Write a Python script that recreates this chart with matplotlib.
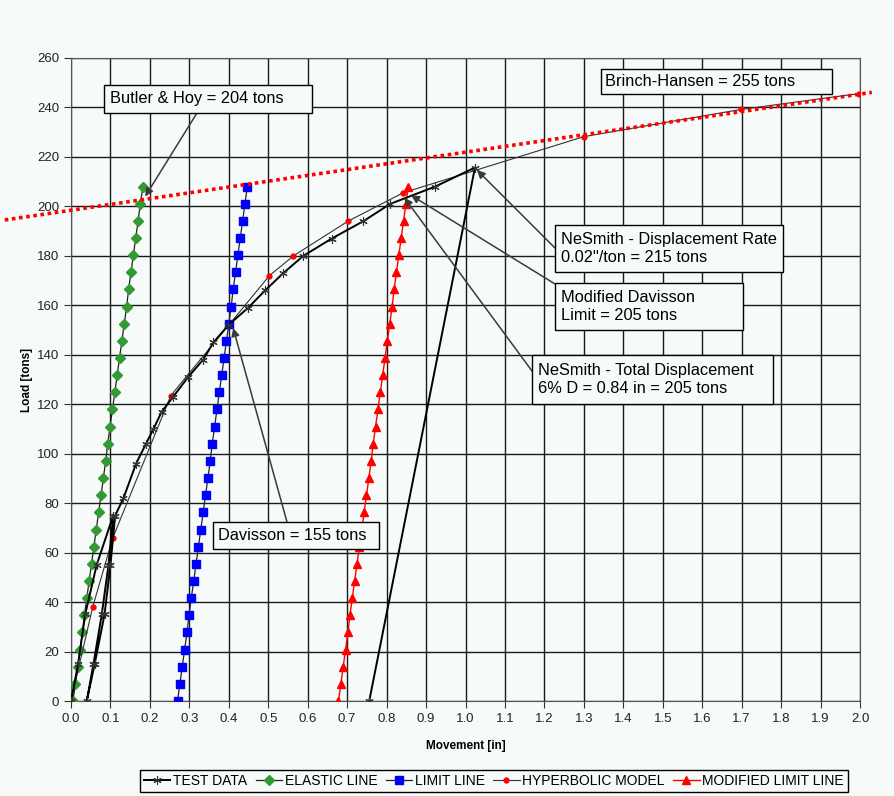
import matplotlib
matplotlib.use("Agg")
import matplotlib.pyplot as plt
from matplotlib.patches import Rectangle
import numpy as np

plt.rcParams['font.family'] = ['Liberation Sans', 'DejaVu Sans']

# load steps shared by the elastic / limit lines (tons)
loads = [0, 6.9, 13.9, 20.8, 27.7, 34.7, 41.6, 48.5, 55.5, 62.4, 69.3, 76.3,
         83.2, 90.1, 97.1, 104.0, 110.9, 117.9, 124.8, 131.7, 138.7, 145.6,
         152.5, 159.5, 166.4, 173.3, 180.3, 187.2, 194.1, 201.1, 208.0]

elastic_x = [0.005, 0.011, 0.017, 0.023, 0.029, 0.034, 0.040, 0.046, 0.052,
             0.058, 0.064, 0.070, 0.076, 0.082, 0.088, 0.093, 0.099, 0.105,
             0.111, 0.117, 0.123, 0.129, 0.135, 0.141, 0.146, 0.152, 0.158,
             0.164, 0.170, 0.176, 0.182]

limit_x = [0.270, 0.276, 0.282, 0.288, 0.294, 0.299, 0.305, 0.311, 0.317,
           0.323, 0.329, 0.335, 0.341, 0.347, 0.353, 0.358, 0.364, 0.370,
           0.376, 0.382, 0.388, 0.394, 0.400, 0.406, 0.411, 0.417, 0.423,
           0.429, 0.435, 0.441, 0.447]

mod_limit_x = [0.678, 0.684, 0.690, 0.696, 0.702, 0.707, 0.713, 0.719, 0.725,
               0.731, 0.737, 0.743, 0.749, 0.755, 0.761, 0.766, 0.772, 0.778,
               0.784, 0.790, 0.796, 0.802, 0.808, 0.814, 0.819, 0.825, 0.831,
               0.837, 0.843, 0.849, 0.855]

# load test: first cycle, unload, reload to failure, final unload
test_x = [0.000, 0.018, 0.036, 0.065, 0.107, 0.095, 0.078, 0.057, 0.040,
          0.060, 0.085, 0.100, 0.112, 0.133, 0.165, 0.190, 0.209, 0.230,
          0.259, 0.297, 0.335, 0.361, 0.399, 0.449, 0.492, 0.538, 0.589,
          0.661, 0.741, 0.809, 0.923, 1.024, 0.756]
test_load = [0, 15, 35, 55, 75, 55, 35, 15, 0,
             15, 35, 55, 75, 82, 96, 104, 110, 117,
             123, 131, 138, 145, 152, 159, 166, 173, 180,
             187, 194, 201, 208, 215.7, 0]

hyper_x = [0.0, 0.055, 0.106, 0.253, 0.503, 0.564, 0.702, 0.842, 1.300,
           1.698, 1.997]
hyper_load = [0, 38, 66, 123.5, 172, 180, 194, 205.5, 228.2, 239.2, 245.6]

# Brinch-Hansen line end points
bh_x = [-0.168, 2.03]
bh_load = [194.5, 246.1]

W, H = 894, 796
bg = '#f6faf8'
fig = plt.figure(figsize=(W / 100, H / 100), dpi=100, facecolor=bg)
ax = fig.add_axes([71 / W, 1 - 701 / H, 789 / W, 643 / H], facecolor=bg)

ax.plot(test_x, test_load, color='black', lw=1.4, marker=(6, 2, 0),
        markersize=6, markeredgewidth=0.8, markeredgecolor='#333333',
        label='TEST DATA', zorder=4)
ax.plot(elastic_x, loads, color='#222222', lw=0.9, marker='D',
        markersize=5, markerfacecolor='#339933', markeredgecolor='#339933',
        label='ELASTIC LINE', zorder=3)
ax.plot(limit_x, loads, color='#222222', lw=0.9, marker='s',
        markersize=6, markerfacecolor='#0000ff', markeredgecolor='#0000ff',
        label='LIMIT LINE', zorder=3)
ax.plot(hyper_x, hyper_load, color='#333333', lw=0.8, marker='o',
        markersize=3.5, markerfacecolor='#ff0000', markeredgecolor='#ff0000',
        label='HYPERBOLIC MODEL', zorder=3)
ax.plot(mod_limit_x, loads, color='#ff0000', lw=1.0, marker='^',
        markersize=6, markerfacecolor='#ff0000', markeredgecolor='#ff0000',
        label='MODIFIED LIMIT LINE', zorder=3)
ax.plot(bh_x, bh_load, color='#ff0000', lw=2.6, linestyle=(0, (1, 1)),
        clip_on=False, zorder=5)

ax.set_xlim(0, 2.0)
ax.set_ylim(0, 260)
ax.set_xticks(np.arange(0, 2.01, 0.1))
ax.set_xticklabels(['%.1f' % v for v in np.arange(0, 2.01, 0.1)])
ax.set_yticks(np.arange(0, 261, 20))
ax.grid(True, color='#1a1a1a', lw=1.0)
ax.set_axisbelow(True)
ax.tick_params(labelsize=9.5, colors='#333333', length=5, width=0.8,
               labelcolor='#222222')
for s in ax.spines.values():
    s.set_color('#555555')
    s.set_linewidth(0.8)

ax.set_xlabel('Movement [in]', fontsize=8.5, fontweight='bold', labelpad=11)
ax.set_ylabel('Load [tons]', fontsize=8.5, fontweight='bold', labelpad=3)


def fxy(px, py):
    # pixel position -> figure fraction
    return px / W, 1 - py / H


def callout(text, rect, text_x, target=None, start=None):
    x0, y0, x1, y1 = rect
    bx, by = fxy(x0, y1)
    fig.add_artist(Rectangle((bx, by), (x1 - x0) / W, (y1 - y0) / H,
                             transform=fig.transFigure, facecolor=bg,
                             edgecolor='black', lw=1.0, zorder=8))
    tx, ty = fxy(text_x, (y0 + y1) / 2)
    fig.text(tx, ty, text, fontsize=11.8, ha='left', va='center',
             linespacing=1.25, zorder=9)
    if target is not None:
        ax.annotate('', xy=target, xytext=fxy(*start),
                    textcoords='figure fraction', zorder=7,
                    arrowprops=dict(arrowstyle='-|>', color='#3a3a3a',
                                    lw=1.1, shrinkA=0, shrinkB=0,
                                    mutation_scale=12))


callout('Butler & Hoy = 204 tons', (104, 85, 312, 113), 110,
        (0.188, 204.0), (197, 113))
callout('Brinch-Hansen = 255 tons', (601, 69, 832, 94), 605)
callout('NeSmith - Displacement Rate\n0.02"/ton = 215 tons',
        (555, 225, 783, 272), 561, (1.029, 214.7), (555, 248))
callout('Modified Davisson\nLimit = 205 tons', (555, 283, 743, 330), 561,
        (0.862, 204.5), (555, 284))
callout('NeSmith - Total Displacement\n6% D = 0.84 in = 205 tons',
        (532, 355, 773, 404), 538, (0.845, 203.5), (532, 371))
callout('Davisson = 155 tons', (213, 522, 379, 549), 218,
        (0.411, 150.8), (287, 522))

fig.legend(loc='center', bbox_to_anchor=(494 / W, 1 - 781 / H), ncol=5,
           fontsize=10, handlelength=1.9, handletextpad=0.2,
           columnspacing=0.6, fancybox=False, edgecolor='black',
           framealpha=1, facecolor=bg, borderpad=0.3)

fig.savefig('out.png', dpi=100, facecolor=bg)
